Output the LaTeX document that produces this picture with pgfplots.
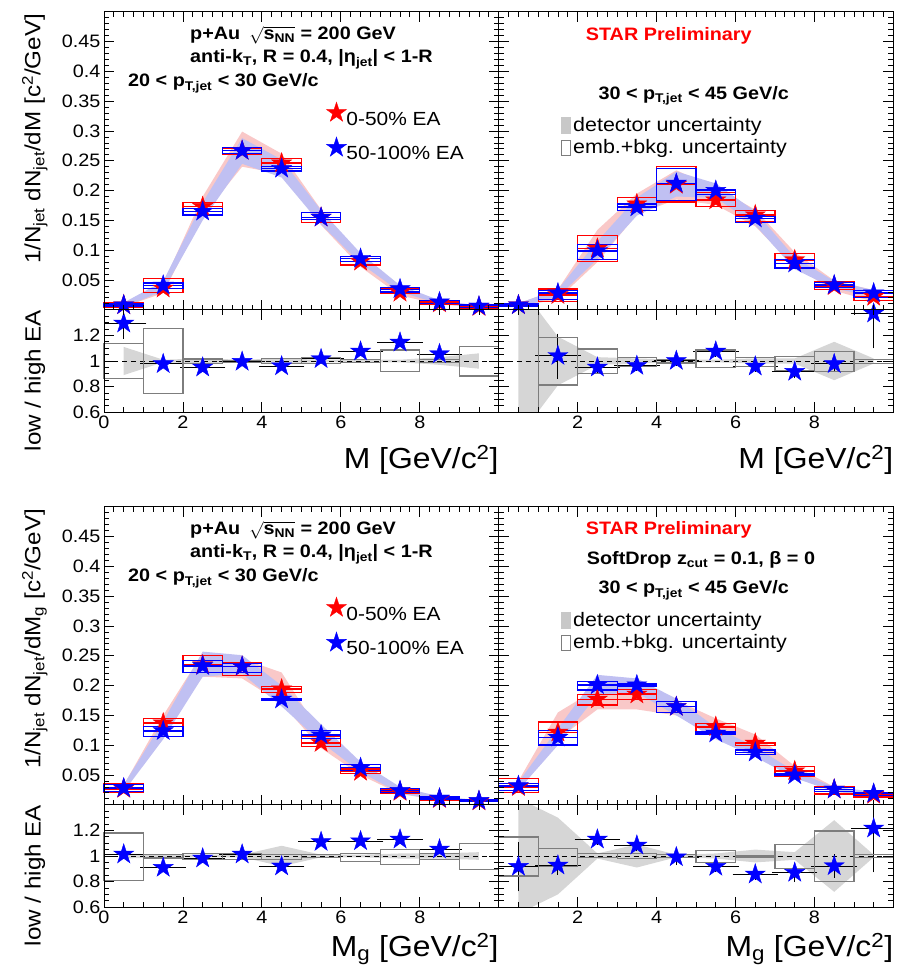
\documentclass[border=0pt]{standalone}
\usepackage{fontspec}
\setmainfont{Liberation Sans}[FakeStretch=1.1]
\usepackage{pgfplots}
\usepackage{pgfplotstable}
\usepgfplotslibrary{fillbetween}
\pgfplotsset{compat=1.18}

\definecolor{bandred}{RGB}{249,200,200}
\definecolor{bandblue}{RGB}{192,192,242}
\definecolor{bandgray}{RGB}{214,214,214}
\definecolor{boxgray}{RGB}{125,125,125}
\definecolor{leggray}{RGB}{200,200,200}

\newcommand{\fs}[1]{\fontsize{#1}{#1}\selectfont}

\pgfdeclareplotmark{fstar}{%
  \pgfpathmoveto{\pgfpointpolar{90}{\pgfplotmarksize}}%
  \pgfpathlineto{\pgfpointpolar{126}{0.382*\pgfplotmarksize}}%
  \pgfpathlineto{\pgfpointpolar{162}{\pgfplotmarksize}}%
  \pgfpathlineto{\pgfpointpolar{198}{0.382*\pgfplotmarksize}}%
  \pgfpathlineto{\pgfpointpolar{234}{\pgfplotmarksize}}%
  \pgfpathlineto{\pgfpointpolar{270}{0.382*\pgfplotmarksize}}%
  \pgfpathlineto{\pgfpointpolar{306}{\pgfplotmarksize}}%
  \pgfpathlineto{\pgfpointpolar{342}{0.382*\pgfplotmarksize}}%
  \pgfpathlineto{\pgfpointpolar{18}{\pgfplotmarksize}}%
  \pgfpathlineto{\pgfpointpolar{54}{0.382*\pgfplotmarksize}}%
  \pgfpathclose
  \pgfusepathqfillstroke}
\pgfdeclareplotmark{binbox}{%
  \pgfpathrectangle{\pgfpoint{-19.735pt}{-0.5*\boxh}}{\pgfpoint{39.47pt}{\boxh}}%
  \pgfusepathqstroke}

\pgfplotsset{
  base/.style={scale only axis, width=394.7pt, xmin=0, xmax=10, anchor=south west,
    axis on top, axis line style={line width=1pt}, tick style={black, line width=0.8pt},
    major tick length=10pt, minor tick length=5pt,
    tick label style={font=\fs{18}}, /pgf/number format/assume math mode=true,
    scaled ticks=false},
  mainax/.style={base, height=298pt, ymin=0, ymax=0.5,
    ytick={0.05,0.1,0.15,0.2,0.25,0.3,0.35,0.4,0.45},
    minor ytick={0.01,0.02,...,0.49},
    xtick={0,2,4,6,8}, minor xtick={0.25,0.5,...,9.75}, xticklabels={},
    yticklabel style={/pgf/number format/fixed, /pgf/number format/precision=2}},
  ratax/.style={base, height=102.4pt, ymin=0.6, ymax=1.4,
    ytick={0.6,0.8,1,1.2}, minor ytick={0.65,0.7,...,1.35},
    xtick={0,2,4,6,8}, minor xtick={0.5,1,...,9.5},
    yticklabel style={/pgf/number format/fixed}},
  yl/.style={ylabel style={at={(axis description cs:-0.175,#1)}, anchor=east, inner sep=0pt, font=\fs{22}}},
  xl/.style={xlabel style={at={(axis description cs:1,0)}, anchor=base east, inner sep=0pt, yshift=-#1, font=\fs{29}}},
  leg/.style={legend style={at={(axis description cs:0.5637,0.6966)}, anchor=north west,
    draw=none, fill=none, inner sep=0pt, outer sep=0pt, font=\fs{19}, row sep=10.5pt,
    column sep=0pt, nodes={inner sep=0pt}}, legend cell align=left},
  boxes/.style={scatter, only marks, mark=binbox, mark options={solid, line width=1.2pt},
    scatter/@pre marker code/.code={\begin{scope}},
    scatter/@post marker code/.code={\end{scope}},
    visualization depends on={#1*(\thisrow{hi}-\thisrow{lo})\as\boxh}},
  starplot/.style={only marks, mark=fstar, mark size=10.5pt,
    error bars/x dir=both, error bars/x fixed=0.5, error bars/error mark=none,
    error bars/error bar style={line width=1.6pt}},
}

\newcommand{\mainplots}[2]{%
  \addplot[draw=none, name path=ru, forget plot] table[x=x,y=bu]{#1};
  \addplot[draw=none, name path=rl, forget plot] table[x=x,y=bl]{#1};
  \addplot[fill=bandred, draw=none, forget plot] fill between[of=ru and rl];
  \addplot[draw=none, name path=bu, forget plot] table[x=x,y=bu]{#2};
  \addplot[draw=none, name path=bl, forget plot] table[x=x,y=bl]{#2};
  \addplot[fill=bandblue, draw=none, forget plot] fill between[of=bu and bl];
  \addplot[red, boxes=596, forget plot] table[x=x, y expr=0.5*(\thisrow{lo}+\thisrow{hi})]{#1};
  \addplot[blue, boxes=596, forget plot] table[x=x, y expr=0.5*(\thisrow{lo}+\thisrow{hi})]{#2};
  \addplot[red, starplot, forget plot] table[x=x,y=y]{#1};
  \addplot[blue, starplot, forget plot] table[x=x,y=y]{#2};
}
\newcommand{\ratioplots}[1]{%
  \addplot[draw=none, name path=gu, forget plot] table[x=x,y expr=1+\thisrow{bh}]{#1};
  \addplot[draw=none, name path=gl, forget plot] table[x=x,y expr=1-\thisrow{bh}]{#1};
  \addplot[fill=bandgray, draw=none, forget plot] fill between[of=gu and gl];
  \addplot[boxgray, boxes=128, forget plot] table[x=x, y expr=0.5*(\thisrow{lo}+\thisrow{hi})]{#1};
  \addplot[black, dash pattern=on 5pt off 4pt, line width=0.8pt, forget plot] coordinates {(0,1) (10,1)};
  \addplot[blue, only marks, mark=fstar, mark size=10.5pt,
    error bars/x dir=both, error bars/x fixed=0.5, error bars/y dir=both, error bars/y explicit,
    error bars/error bar style={black, line width=0.9pt},
    error bars/error mark options={black, line width=0.9pt, mark size=3pt}, forget plot]
    table[x=x, y=y, y error plus=ep, y error minus=em]{#1};
}
\newcommand{\legstars}{%
  \addlegendimage{legend image code/.code={\draw[mark=fstar, mark size=10.5pt, red, fill=red] plot coordinates {(8.5pt,6.5pt)};}}
  \addlegendentry{0-50\% EA}
  \addlegendimage{legend image code/.code={\draw[mark=fstar, mark size=10.5pt, blue, fill=blue] plot coordinates {(8.5pt,6.5pt)};}}
  \addlegendentry{50-100\% EA}
}

% ---------- data: x, value, box low/high, band upper/lower ----------
\pgfplotstableread{
x   y      lo     hi     bu     bl
0.5 0.008  0.004  0.012  0.011  0.005
1.5 0.036  0.029  0.053  0.044  0.028
2.5 0.173  0.159  0.180  0.190  0.158
3.5 0.267  0.261  0.271  0.299  0.240
4.5 0.246  0.233  0.254  0.262  0.228
5.5 0.155  0.146  0.163  0.168  0.142
6.5 0.081  0.075  0.089  0.088  0.072
7.5 0.029  0.028  0.036  0.034  0.024
8.5 0.011  0.009  0.013  0.013  0.009
9.5 0.005  0.003  0.006  0.006  0.004
}\TaLr
\pgfplotstableread{
x   y      lo     hi     bu     bl
0.5 0.008  0.005  0.011  0.012  0.004
1.5 0.041  0.036  0.045  0.048  0.032
2.5 0.165  0.159  0.170  0.180  0.150
3.5 0.267  0.262  0.272  0.288  0.245
4.5 0.237  0.233  0.241  0.252  0.222
5.5 0.155  0.151  0.163  0.167  0.143
6.5 0.086  0.081  0.090  0.095  0.078
7.5 0.035  0.030  0.037  0.041  0.030
8.5 0.013  0.010  0.015  0.016  0.010
9.5 0.006  0.004  0.008  0.007  0.004
}\TaLb
\pgfplotstableread{
x   y      lo     hi     bu     bl
0.5 0.008  0.005  0.011  0.011  0.005
1.5 0.025  0.0136 0.035  0.034  0.018
2.5 0.103  0.081  0.124  0.134  0.080
3.5 0.1775 0.166  0.189  0.195  0.160
4.5 0.210  0.181  0.240  0.234  0.185
5.5 0.184  0.173  0.197  0.205  0.176
6.5 0.159  0.148  0.166  0.168  0.140
7.5 0.0836 0.0696 0.094  0.0966 0.072
8.5 0.040  0.034  0.047  0.049  0.032
9.5 0.022  0.016  0.033  0.033  0.0137
}\TaRr
\pgfplotstableread{
x   y      lo     hi     bu     bl
0.5 0.008  0.005  0.011  0.011  0.005
1.5 0.028  0.0176 0.032  0.034  0.022
2.5 0.099  0.085  0.110  0.115  0.085
3.5 0.172  0.166  0.1775 0.188  0.158
4.5 0.212  0.184  0.237  0.232  0.190
5.5 0.200  0.193  0.202  0.212  0.188
6.5 0.1535 0.147  0.156  0.165  0.142
7.5 0.078  0.070  0.085  0.088  0.068
8.5 0.0416 0.037  0.046  0.048  0.036
9.5 0.028  0.020  0.033  0.033  0.022
}\TaRb
\pgfplotstableread{
x   y      lo     hi     bu     bl
0.5 0.027  0.021  0.035  0.033  0.022
1.5 0.137  0.114  0.145  0.150  0.120
2.5 0.2346 0.222  0.250  0.255  0.215
3.5 0.232  0.217  0.238  0.245  0.212
4.5 0.194  0.189  0.198  0.222  0.170
5.5 0.104  0.0975 0.114  0.118  0.095
6.5 0.0556 0.053  0.060  0.063  0.050
7.5 0.022  0.019  0.026  0.026  0.018
8.5 0.010  0.008  0.012  0.012  0.008
9.5 0.006  0.005  0.008  0.007  0.005
}\TbLr
\pgfplotstableread{
x   y      lo     hi     bu     bl
0.5 0.028  0.022  0.034  0.034  0.022
1.5 0.124  0.115  0.132  0.140  0.110
2.5 0.233  0.222  0.242  0.257  0.215
3.5 0.232  0.222  0.237  0.251  0.220
4.5 0.177  0.175  0.179  0.200  0.165
5.5 0.117  0.1116 0.124  0.135  0.105
6.5 0.0622 0.057  0.067  0.072  0.055
7.5 0.0237 0.021  0.027  0.030  0.019
8.5 0.011  0.009  0.013  0.014  0.008
9.5 0.007  0.006  0.008  0.008  0.005
}\TbLb
\pgfplotstableread{
x   y      lo     hi     bu     bl
0.5 0.030  0.021  0.0445 0.040  0.022
1.5 0.1216 0.1015 0.139  0.155  0.110
2.5 0.177  0.1676 0.185  0.195  0.160
3.5 0.1854 0.177  0.193  0.196  0.160
4.5 0.1646 0.1545 0.173  0.175  0.150
5.5 0.131  0.121  0.137  0.145  0.120
6.5 0.103  0.099  0.105  0.118  0.090
7.5 0.0567 0.048  0.064  0.065  0.050
8.5 0.026  0.018  0.030  0.030  0.022
9.5 0.017  0.013  0.021  0.020  0.014
}\TbRr
\pgfplotstableread{
x   y      lo     hi     bu     bl
0.5 0.032  0.024  0.036  0.038  0.025
1.5 0.113  0.1003 0.124  0.128  0.100
2.5 0.201  0.1926 0.2065 0.218  0.185
3.5 0.201  0.198  0.204  0.212  0.188
4.5 0.1646 0.1545 0.173  0.178  0.150
5.5 0.120  0.118  0.122  0.130  0.110
6.5 0.088  0.085  0.092  0.097  0.080
7.5 0.050  0.049  0.052  0.056  0.045
8.5 0.026  0.022  0.029  0.030  0.022
9.5 0.019  0.016  0.021  0.022  0.016
}\TbRb
% ratio: x, value, err+, err-, box low/high, detector band half width
\pgfplotstableread{
x   y     ep    em    lo     hi     bh
0.5 1.294 0.10  0.097 0.864  1.137  0.11
1.5 0.977 0.01  0.01  0.747  1.255  0.01
2.5 0.950 0.01  0.01  0.980  1.016  0.02
3.5 0.995 0.01  0.01  0.990  1.005  0.01
4.5 0.960 0.01  0.01  0.980  1.020  0.02
5.5 1.016 0.01  0.01  0.980  1.030  0.01
6.5 1.075 0.01  0.01  0.990  1.010  0.01
7.5 1.145 0.01  0.01  0.916  1.086  0.01
8.5 1.055 0.01  0.01  0.990  1.010  0.03
9.5 nan   0     0     0.883  1.112  0.06
}\RaL
\pgfplotstableread{
x   y     ep    em    lo     hi     bh
0.5 nan   0     0     0.600  1.400  0.60
1.5 1.041 0.15  0.155 0.8125 1.184  0.19
2.5 0.950 0.02  0.02  0.903  1.094  0.03
3.5 0.963 0.015 0.015 0.960  1.030  0.02
4.5 1.002 0.015 0.015 0.985  1.010  0.01
5.5 1.075 0.02  0.02  0.950  1.086  0.01
6.5 0.958 0.02  0.02  0.960  1.030  0.02
7.5 0.917 0.03  0.03  0.924  1.033  0.02
8.5 0.977 0.04  0.04  0.919  1.075  0.15
9.5 1.372 0.25  0.25  0.980  1.010  0.02
}\RaR
\pgfplotstableread{
x   y     ep    em    lo     hi     bh
0.5 1.013 0.01  0.01  0.810  1.180  0.02
1.5 0.909 0.01  0.01  0.985  1.010  0.01
2.5 0.982 0.01  0.01  0.970  1.020  0.01
3.5 1.013 0.01  0.01  0.970  1.020  0.01
4.5 0.920 0.01  0.01  0.970  1.010  0.08
5.5 1.111 0.01  0.01  0.990  1.010  0.01
6.5 1.117 0.01  0.01  0.960  1.020  0.01
7.5 1.130 0.01  0.01  0.935  1.052  0.02
8.5 1.052 0.01  0.01  0.970  1.020  0.02
9.5 nan   0     0     0.896  1.096  0.03
}\RbL
\pgfplotstableread{
x   y     ep    em    lo     hi     bh
0.5 0.917 0.17  0.17  0.844  1.148  0.45
1.5 0.927 0.05  0.05  0.917  1.057  0.30
2.5 1.130 0.02  0.02  0.990  1.020  0.02
3.5 1.083 0.02  0.02  0.980  1.020  0.09
4.5 0.992 0.04  0.04  0.990  1.010  0.01
5.5 0.917 0.02  0.02  0.950  1.040  0.02
6.5 0.857 0.02  0.02  0.990  1.000  0.05
7.5 0.870 0.05  0.05  0.900  1.090  0.03
8.5 0.922 0.07  0.07  0.800  1.195  0.28
9.5 1.216 0.174 0.32  0.990  1.010  0.01
}\RbR

\begin{document}
\begin{tikzpicture}

% ===== row 1 =====
\begin{axis}[mainax, at={(104pt,667.2pt)}, yl=0.993, leg,
  ylabel={1/N\textsubscript{jet} dN\textsubscript{jet}/dM [c\textsuperscript{2}/GeV]}]
\mainplots{\TaLr}{\TaLb}
\legstars
\end{axis}
\begin{axis}[mainax, at={(498.7pt,667.2pt)}, yticklabels={}]
\mainplots{\TaRr}{\TaRb}
\end{axis}
\begin{axis}[ratax, at={(104pt,564.8pt)}, yl=1.0, xl=56pt,
  ylabel={low / high EA}, xlabel={M [GeV/c\textsuperscript{2}]}]
\ratioplots{\RaL}
\end{axis}
\begin{axis}[ratax, at={(498.7pt,564.8pt)}, yticklabels={}, xticklabels={,2,4,6,8}, xl=56pt,
  xlabel={M [GeV/c\textsuperscript{2}]}]
\ratioplots{\RaR}
\end{axis}

% ===== row 2 =====
\begin{axis}[mainax, at={(104pt,172.2pt)}, yl=0.993, leg,
  ylabel={1/N\textsubscript{jet} dN\textsubscript{jet}/dM\textsubscript{g} [c\textsuperscript{2}/GeV]}]
\mainplots{\TbLr}{\TbLb}
\legstars
\end{axis}
\begin{axis}[mainax, at={(498.7pt,172.2pt)}, yticklabels={}]
\mainplots{\TbRr}{\TbRb}
\end{axis}
\begin{axis}[ratax, at={(104pt,69.8pt)}, yl=1.0, xl=49.5pt,
  ylabel={low / high EA}, xlabel={M\textsubscript{g} [GeV/c\textsuperscript{2}]}]
\ratioplots{\RbL}
\end{axis}
\begin{axis}[ratax, at={(498.7pt,69.8pt)}, yticklabels={}, xticklabels={,2,4,6,8}, xl=49.5pt,
  xlabel={M\textsubscript{g} [GeV/c\textsuperscript{2}]}]
\ratioplots{\RbR}
\end{axis}

% ===== annotations =====
\tikzset{ann/.style={anchor=base west, inner sep=0pt, font=\bfseries\fs{18}},
         leg2/.style={anchor=base west, inner sep=0pt, font=\fs{19.5}}}
\newcommand{\sqs}{p+Au\hspace{0.5em}$\sqrt{\mbox{s\textsubscript{NN}}}$ = 200 GeV}
\newcommand{\akt}{anti-k\textsubscript{T}, R = 0.4, |η\textsubscript{jet}| < 1-R}
\newcommand{\detu}{\textcolor{leggray}{\rule[-2.3pt]{10pt}{17pt}}\hspace{2pt}detector uncertainty}
\newcommand{\embu}{{\color{boxgray}\fboxsep=0pt\fboxrule=1pt\fbox{\rule[-1.7pt]{0pt}{14pt}\hspace{8pt}}}\hspace{2pt}emb.+bkg. uncertainty}

\node[ann] at (190pt,937pt) {\sqs};
\node[ann] at (190pt,914pt) {\akt};
\node[ann] at (128pt,890pt) {20 < p\textsubscript{T,jet} < 30 GeV/c};
\node[ann, text=red] at (585.7pt,936.3pt) {STAR Preliminary};
\node[ann] at (598.3pt,877.7pt) {30 < p\textsubscript{T,jet} < 45 GeV/c};
\node[leg2] at (561pt,845.3pt) {\detu};
\node[leg2] at (561pt,823.7pt) {\embu};

\node[ann] at (190pt,442pt) {\sqs};
\node[ann] at (190pt,419pt) {\akt};
\node[ann] at (128pt,395pt) {20 < p\textsubscript{T,jet} < 30 GeV/c};
\node[ann, text=red] at (585.7pt,442pt) {STAR Preliminary};
\node[ann] at (586.7pt,412pt) {SoftDrop z\textsubscript{cut} = 0.1, β = 0};
\node[ann] at (598.3pt,383pt) {30 < p\textsubscript{T,jet} < 45 GeV/c};
\node[leg2] at (561pt,350.3pt) {\detu};
\node[leg2] at (561pt,328.7pt) {\embu};

\pgfresetboundingbox
\path[use as bounding box] (0pt,0pt) rectangle (923pt,977pt);
\end{tikzpicture}
\end{document}
